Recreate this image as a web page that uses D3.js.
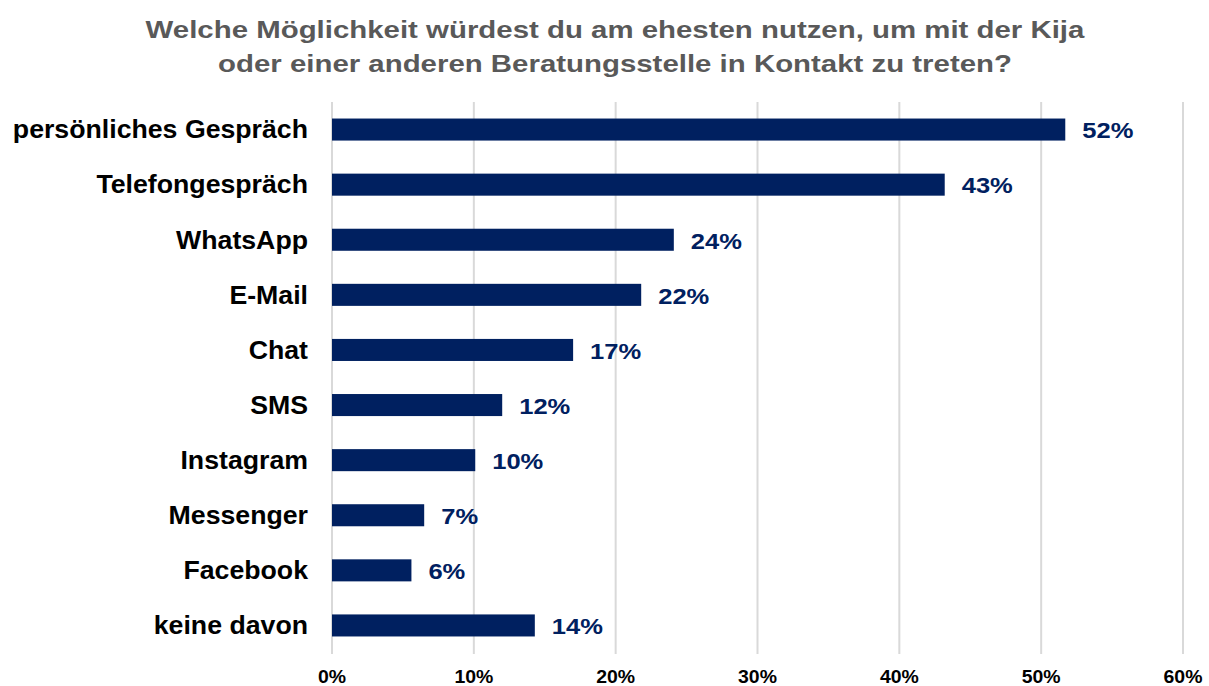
<!DOCTYPE html>
<html>
<head>
<meta charset="utf-8">
<script src="https://cdn.jsdelivr.net/npm/d3@7"></script>
<style>
  body { margin: 0; background: #fff; }
  svg text { font-family: "Liberation Sans", Arial, sans-serif; font-weight: bold; }
</style>
</head>
<body>
<div id="chart"></div>
<script>
'use strict'
const titleLines = [
  "Welche Möglichkeit würdest du am ehesten nutzen, um mit der Kija",
  "oder einer anderen Beratungsstelle in Kontakt zu treten?"
]
const categories = ["persönliches Gespräch", "Telefongespräch", "WhatsApp", "E-Mail", "Chat",
  "SMS", "Instagram", "Messenger", "Facebook", "keine davon"]
const values = [51.7, 43.2, 24.1, 21.8, 17.0, 12.0, 10.1, 6.5, 5.6, 14.3]
const labels = ["52%", "43%", "24%", "22%", "17%", "12%", "10%", "7%", "6%", "14%"]
const ticks = [0, 10, 20, 30, 40, 50, 60]

const width = 1209, height = 686
const svg = d3.select("#chart")
  .append("svg")
    .attr("width", width)
    .attr("height", height)

// the reference text is a bit wider than its height suggests, so stretch horizontally
svg.selectAll("text.title")
  .data(titleLines)
  .enter()
    .append("text")
    .attr("class", "title")
    .attr("transform", (d, i) => `translate(615,${38 + i * 33.5}) scale(1.21,1)`)
    .attr("text-anchor", "middle")
    .attr("fill", "#595959")
    .style("font-size", "24.3px")
    .text(d => d)

const x = d3.scaleLinear().domain([0, 60]).range([332, 1183])
const y = d3.scaleBand().domain(categories).range([102, 653]).paddingInner(0.6).paddingOuter(0.3)

// gridlines
svg.selectAll("line.grid")
  .data(ticks)
  .enter()
    .append("line")
    .attr("x1", d => x(d))
    .attr("x2", d => x(d))
    .attr("y1", 102)
    .attr("y2", 654)
    .attr("stroke", "#d9d9d9")
    .attr("stroke-width", 2)

// x axis labels
svg.selectAll("text.tick")
  .data(ticks)
  .enter()
    .append("text")
    .attr("transform", d => `translate(${x(d)},683) scale(1.08,1)`)
    .attr("text-anchor", "middle")
    .attr("fill", "#000")
    .style("font-size", "18px")
    .text(d => d + "%")

// bars
svg.selectAll("rect.bar")
  .data(values)
  .enter()
    .append("rect")
    .attr("x", x(0))
    .attr("y", (d, i) => y(categories[i]))
    .attr("width", d => x(d) - x(0))
    .attr("height", y.bandwidth())
    .attr("fill", "#002060")

// value labels
svg.selectAll("text.value")
  .data(values)
  .enter()
    .append("text")
    .attr("transform", (d, i) => `translate(${x(d) + 17},${y(categories[i]) + y.bandwidth() / 2}) scale(1.16,1)`)
    .attr("dy", "0.4em")
    .attr("fill", "#002060")
    .style("font-size", "22px")
    .text((d, i) => labels[i])

// category labels
svg.selectAll("text.cat")
  .data(categories)
  .enter()
    .append("text")
    .attr("x", 308)
    .attr("y", d => y(d) + y.bandwidth() / 2)
    .attr("dy", "0.33em")
    .attr("text-anchor", "end")
    .attr("fill", "#000")
    .style("font-size", "26.7px")
    .text(d => d)
</script>
</body>
</html>
